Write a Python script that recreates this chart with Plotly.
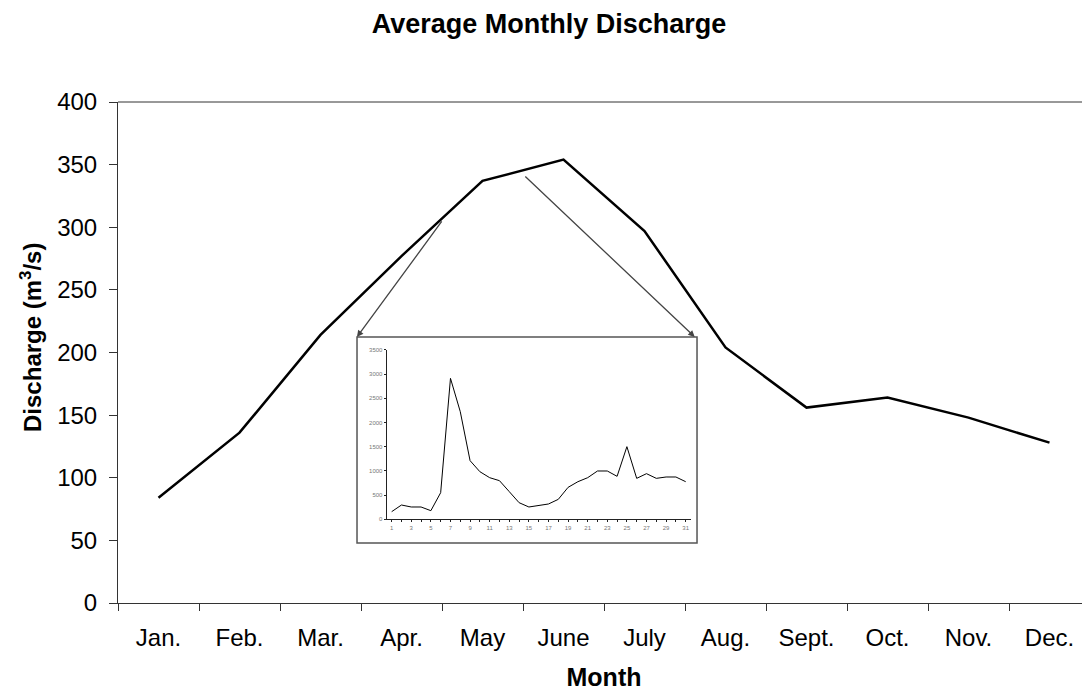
import plotly.graph_objects as go

# Average monthly discharge (m3/s)
months = ["Jan.", "Feb.", "Mar.", "Apr.", "May", "June", "July", "Aug.",
          "Sept.", "Oct.", "Nov.", "Dec."]
discharge = [84, 136, 214, 277, 337, 354, 297, 204, 156, 164, 148, 128]

# Daily discharge for the inset (one month, days 1..31)
days = list(range(1, 32))
daily = [158, 296, 255, 255, 179, 551, 2914, 2225, 1213, 985, 861, 799, 572,
         344, 255, 282, 317, 413, 661, 778, 861, 999, 999, 889, 1502, 847,
         944, 847, 875, 875, 778]

FONT = "Liberation Sans, Arial, sans-serif"

fig = go.Figure()
fig.add_trace(go.Scatter(
    x=months, y=discharge,
    mode="lines",
    line=dict(color="black", width=2.5),
    showlegend=False,
))
fig.add_trace(go.Scatter(
    x=days, y=daily,
    mode="lines",
    line=dict(color="black", width=1),
    xaxis="x2", yaxis="y2",
    showlegend=False,
))

# page body has an 8px margin, so the figure is sized/offset to fit the window
fig.update_layout(
    width=1082, height=683,
    margin=dict(l=110, r=0, t=94, b=88),
    plot_bgcolor="white", paper_bgcolor="white",
    font=dict(family=FONT, color="black"),
    title=dict(text="<b>Average Monthly Discharge</b>", x=0.5, xanchor="center",
               y=0.977, yanchor="middle", font=dict(size=27)),
    xaxis=dict(
        type="category", range=[-0.5, 11.5], showgrid=False,
        showline=True, linecolor="#333", linewidth=1,
        ticks="outside", tickson="boundaries", ticklen=7, tickcolor="#333",
        tickfont=dict(size=24), ticklabelstandoff=13,
        title=dict(text="<b>Month</b>", font=dict(size=25), standoff=20),
    ),
    yaxis=dict(
        range=[0, 400], dtick=50, showgrid=False, zeroline=False,
        showline=True, linecolor="#333", linewidth=1,
        ticks="outside", ticklen=8, tickcolor="#333",
        tickfont=dict(size=24), ticklabelstandoff=7,
    ),
    xaxis2=dict(
        domain=[0.2764, 0.5895], anchor="y2", range=[0.49, 31.54],
        tickvals=list(range(1, 32, 2)), showgrid=False,
        showline=True, linecolor="#222", linewidth=1,
        ticks="outside", ticklen=2, tickcolor="#222",
        minor=dict(dtick=1, ticks="outside", ticklen=2, tickcolor="#222"),
        tickfont=dict(size=6, color="#777"),
    ),
    yaxis2=dict(
        domain=[0.167, 0.505], anchor="x2", range=[0, 3500], dtick=500,
        showgrid=False, zeroline=False,
        showline=True, linecolor="#222", linewidth=1,
        ticks="outside", ticklen=2, tickcolor="#222",
        tickfont=dict(size=6, color="#777"),
    ),
    shapes=[
        # top frame line of the main plot
        dict(type="line", xref="paper", yref="paper", x0=0, x1=1, y0=1, y1=1,
             line=dict(color="#333", width=1)),
        # inset frame
        dict(type="rect", xref="paper", yref="paper",
             x0=0.2459, x1=0.5957, y0=0.1198, y1=0.531,
             line=dict(color="#555", width=1.5), fillcolor="white", layer="below"),
    ],
    annotations=[
        dict(text="<b>Discharge (m<sup>3</sup>/s)</b>", textangle=-90,
             xref="paper", yref="paper", x=-0.0895, y=0.529,
             xanchor="center", yanchor="middle", showarrow=False,
             font=dict(size=24)),
        dict(x=2.45, y=212.4, ax=3.51, ay=305.8, xref="x", yref="y",
             axref="x", ayref="y", text="", showarrow=True,
             arrowhead=2, arrowsize=1, arrowwidth=1.3, arrowcolor="#444"),
        dict(x=6.62, y=212.4, ax=4.51, ay=341.7, xref="x", yref="y",
             axref="x", ayref="y", text="", showarrow=True,
             arrowhead=2, arrowsize=1, arrowwidth=1.3, arrowcolor="#444"),
    ],
)

fig.write_html("out.html")
